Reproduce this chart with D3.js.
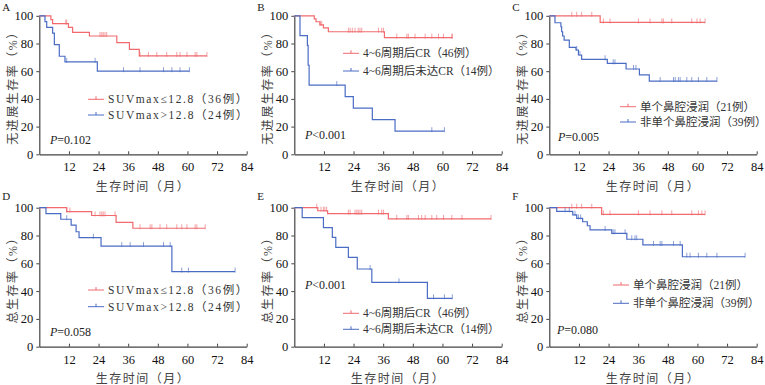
<!DOCTYPE html>
<html>
<head>
<meta charset="utf-8">
<script src="https://cdn.jsdelivr.net/npm/d3@7"></script>
<style>
body { margin: 0; background: #fff; }
svg { display: block; }
</style>
</head>
<body>
<script>
// ticks
var xTicks = [12, 24, 36, 48, 60, 72, 84];
var yTicks = [0, 20, 40, 60, 80, 100];

// A  PFS, SUVmax
var aLowSteps = [[0,100],[4.7,97.2],[5.4,94.4],[11.8,91.7],[13.5,88.1],[20.3,85.4],[31.4,80.6],[36.5,75.8],[40.5,71.0]];
var aLowEnd = 67.9;
var aLowCens = [10.7,11.1,24.6,25.3,25.9,26.6,27.3,40.8,44.2,47.6,51.6,55.7,57.0,59.8,63.1,63.8,67.9];
var aHighSteps = [[0,100],[2.3,95.8],[3.0,91.7],[5.4,87.5],[6.1,79.2],[8.1,70.8],[10.4,66.7],[23.5,60.0]];
var aHighEnd = 60.8;
var aHighCens = [11.1,22.6,34.1,40.8,50.3,53.7,57.0,60.8];

// B  PFS, CR after 4~6 cycles
var bCrSteps = [[0,100],[8.1,97.8],[8.8,95.7],[10.4,93.5],[11.8,91.3],[13.8,88.5],[36.5,84.2]];
var bCrEnd = 64.0;
var bCrCens = [10.4,11.1,21.9,22.6,23.5,24.6,25.9,26.6,27.3,34.1,35.4,36.1,41.5,45.6,46.2,48.9,53.0,55.7,58.4,60.4,63.8,64.0];
var bNonSteps = [[0,100],[2.3,85.7],[5.3,78.6],[5.6,64.3],[6.0,50.0],[20.6,41.7],[23.9,33.3],[31.6,25.0],[40.8,16.7]];
var bNonEnd = 60.8;
var bNonCens = [17.2,55.7,60.8];

// C  PFS, nasal cavity
var cSingleSteps = [[0,100],[20.6,95.2]];
var cSingleEnd = 63.1;
var cSingleCens = [9.1,11.1,13.1,17.2,21.9,24.6,36.1,40.8,45.6,46.2,49.6,57.7,59.8,61.1,63.1];
var cMultiSteps = [[0,100],[2.3,95.0],[4.7,92.1],[5.0,88.5],[5.4,85.4],[6.0,82.5],[8.1,77.2],[10.8,75.3],[11.8,71.7],[13.1,68.6],[23.5,65.7],[31.1,61.6],[36.5,57.3],[40.5,52.9]];
var cMultiEnd = 67.9;
var cMultiCens = [11.1,12.4,22.6,25.9,26.6,34.1,35.1,44.9,50.3,51.0,52.3,53.0,55.7,57.7,60.4,63.8,67.9];

// D  OS, SUVmax
var dLowSteps = [[0,100],[11.1,97.2],[21.2,94.4],[31.1,89.5],[37.9,85.2]];
var dLowEnd = 67.2;
var dLowCens = [11.1,12.4,22.6,24.6,25.3,25.9,26.6,30.7,40.8,44.9,45.6,48.9,51.6,55.7,57.7,59.8,63.1,63.8,67.2];
var dHighSteps = [[0,100],[2.7,95.8],[8.7,91.7],[12.9,87.5],[14.9,82.7],[16.1,78.4],[25.0,72.4],[53.7,54.0]];
var dHighEnd = 79.3;
var dHighCens = [11.1,21.9,33.4,36.8,42.2,50.3,53.0,57.7,60.4,79.3];

// E  OS, CR
var eCrSteps = [[0,100],[9.5,97.8],[13.5,95.7],[38.1,91.9]];
var eCrEnd = 79.7;
var eCrCens = [9.1,10.8,11.8,12.4,13.1,21.9,22.6,24.6,25.3,25.9,26.6,27.3,34.1,35.4,36.1,41.5,45.6,46.2,50.3,51.6,53.0,55.7,57.7,60.4,63.8,67.9,79.7];
var eNonSteps = [[0,100],[3.2,92.9],[11.8,85.7],[15.4,78.6],[16.8,71.4],[21.9,64.3],[25.5,55.9],[31.4,46.3],[53.9,34.8]];
var eNonEnd = 64.0;
var eNonCens = [30.7,42.4,56.4,60.8,64.0];

// F  OS, nasal cavity
var fSingleSteps = [[0,100],[21.2,95.2]];
var fSingleEnd = 63.1;
var fSingleCens = [9.1,11.1,13.1,17.2,21.9,24.6,36.1,40.8,45.6,49.6,57.7,60.4,61.8,63.1];
var fMultiSteps = [[0,100],[3.0,97.4],[9.5,94.9],[11.1,92.3],[13.5,89.9],[15.4,87.0],[16.5,84.0],[25.3,81.6],[31.4,77.3],[37.9,73.2],[53.9,64.7]];
var fMultiEnd = 79.3;
var fMultiCens = [6.4,8.1,10.4,11.8,12.7,22.6,25.9,26.6,30.7,33.4,34.7,35.4,42.2,44.9,45.6,50.3,53.0,55.7,57.0,60.4,63.8,67.9,79.3];

var legSuv = ["SUVmax≤12.8（36例）", "SUVmax>12.8（24例）"];
var legCr = ["4~6周期后CR（46例）", "4~6周期后未达CR（14例）"];
var legNasal = ["单个鼻腔浸润（21例）", "非单个鼻腔浸润（39例）"];
var pValues = ["=0.102", "<0.001", "=0.005", "=0.058", "<0.001", "=0.080"];
var letters = ["A", "B", "C", "D", "E", "F"];
var yTitles = ["无进展生存率（%）", "总生存率（%）"];
var xTitle = "生存时间（月）";

var RED = "#f06a6e", BLUE = "#4b6cc4";
var serif = "'Liberation Serif','Times New Roman','Noto Sans CJK SC',serif";

var colX = [39.3, 294.3, 549.3];
var rowTop = [15.8, 207.7], rowBot = [154.3, 346.7];
var plotW = 207.4;

var panels = [
  {col:0,row:0,curves:[[aLowSteps,aLowEnd,aLowCens,RED],[aHighSteps,aHighEnd,aHighCens,BLUE]],leg:legSuv,legX:48.7,legY:[99.3,115],ls:1.6,p:[50,140]},
  {col:1,row:0,curves:[[bCrSteps,bCrEnd,bCrCens,RED],[bNonSteps,bNonEnd,bNonCens,BLUE]],leg:legCr,legX:48.7,legY:[53.3,71],ls:0,p:[305,135]},
  {col:2,row:0,curves:[[cSingleSteps,cSingleEnd,cSingleCens,RED],[cMultiSteps,cMultiEnd,cMultiCens,BLUE]],leg:legNasal,legX:70.7,legY:[106.7,122],ls:0,p:[558,137]},
  {col:0,row:1,curves:[[dLowSteps,dLowEnd,dLowCens,RED],[dHighSteps,dHighEnd,dHighCens,BLUE]],leg:legSuv,legX:48.7,legY:[290,306.7],ls:1.6,p:[50,332]},
  {col:1,row:1,curves:[[eCrSteps,eCrEnd,eCrCens,RED],[eNonSteps,eNonEnd,eNonCens,BLUE]],leg:legCr,legX:48.7,legY:[313.3,329.3],ls:0,p:[305,285]},
  {col:2,row:1,curves:[[fSingleSteps,fSingleEnd,fSingleCens,RED],[fMultiSteps,fMultiEnd,fMultiCens,BLUE]],leg:legNasal,legX:63.7,legY:[285,303.3],ls:0,p:[557,330]}
];

var svg = d3.select("body").append("svg")
  .attr("width", 765).attr("height", 385)
  .style("font-family", serif);

function survAt(steps, t) {
  var s = 100;
  steps.forEach(function(d) { if (d[0] <= t) s = d[1]; });
  return s;
}

panels.forEach(function(p, i) {
  var x0 = colX[p.col];
  var x = d3.scaleLinear().domain([0, 84]).range([x0, x0 + plotW]);
  var y = d3.scaleLinear().domain([0, 100]).range([rowBot[p.row], rowTop[p.row]]);
  var g = svg.append("g");

  // axes
  var xa = g.append("g").attr("transform", "translate(0," + rowBot[p.row] + ")")
    .call(d3.axisBottom(x).tickValues(xTicks).tickSizeInner(-3).tickSizeOuter(0).tickPadding(8));
  var ya = g.append("g").attr("transform", "translate(" + x0 + ",0)")
    .call(d3.axisLeft(y).tickValues(yTicks).tickSize(3).tickSizeOuter(0).tickPadding(3));
  [xa, ya].forEach(function(a) {
    a.select(".domain").attr("stroke", "#444").attr("stroke-width", 1.2);
    a.selectAll(".tick line").attr("stroke", "#444");
    a.selectAll("text").attr("fill", "#111").style("font-size", "12.5px").style("font-family", serif);
  });

  // curves
  var line = d3.line().x(function(d) { return x(d[0]); }).y(function(d) { return y(d[1]); })
    .curve(d3.curveStepAfter);
  p.curves.forEach(function(c) {
    var steps = c[0], pts = steps.concat([[c[1], steps[steps.length - 1][1]]]);
    g.append("path").attr("d", line(pts)).attr("fill", "none")
      .attr("stroke", c[3]).attr("stroke-width", 1.2);
    g.selectAll(null).data(c[2]).enter().append("line")
      .attr("x1", function(t) { return x(t); }).attr("x2", function(t) { return x(t); })
      .attr("y1", function(t) { return y(survAt(steps, t)) - 4; })
      .attr("y2", function(t) { return y(survAt(steps, t)) + 1; })
      .attr("stroke", c[3]).attr("stroke-width", 0.9).attr("opacity", 0.7);
  });

  // legend
  p.leg.forEach(function(txt, k) {
    var lx = x0 + p.legX, ly = p.legY[k], col = k === 0 ? RED : BLUE;
    g.append("line").attr("x1", lx).attr("x2", lx + 16).attr("y1", ly).attr("y2", ly)
      .attr("stroke", col).attr("stroke-width", 1);
    g.append("line").attr("x1", lx + 8).attr("x2", lx + 8).attr("y1", ly - 3).attr("y2", ly)
      .attr("stroke", col).attr("stroke-width", 1);
    g.append("text").attr("x", lx + 20).attr("y", ly).attr("dy", "0.35em")
      .style("font-size", "11.5px").style("letter-spacing", p.ls + "px")
      .attr("fill", "#333").text(txt);
  });

  // p value
  var pt = g.append("text").attr("x", p.p[0]).attr("y", p.p[1]).attr("dy", "0.35em")
    .style("font-size", "12px").attr("fill", "#222");
  pt.append("tspan").style("font-style", "italic").text("P");
  pt.append("tspan").text(pValues[i]);

  // letter
  g.append("text").attr("x", x0 - 37).attr("y", p.row === 0 ? 11 : 200)
    .style("font-size", "11px").attr("fill", "#222").text(letters[i]);

  // titles
  var midY = (rowTop[p.row] + rowBot[p.row]) / 2;
  g.append("text").attr("transform", "translate(" + (x0 - 27) + "," + midY + ") rotate(-90)")
    .attr("text-anchor", "middle").attr("dy", "0.35em")
    .style("font-size", "12px").style("letter-spacing", "1.5px").attr("fill", "#444")
    .text(yTitles[p.row]);
  g.append("text").attr("x", x0 + plotW / 2).attr("y", rowBot[p.row] + 32).attr("dy", "0.35em")
    .attr("text-anchor", "middle").style("font-size", "12px").style("letter-spacing", "1.5px")
    .attr("fill", "#444").text(xTitle);
});
</script>
</body>
</html>
